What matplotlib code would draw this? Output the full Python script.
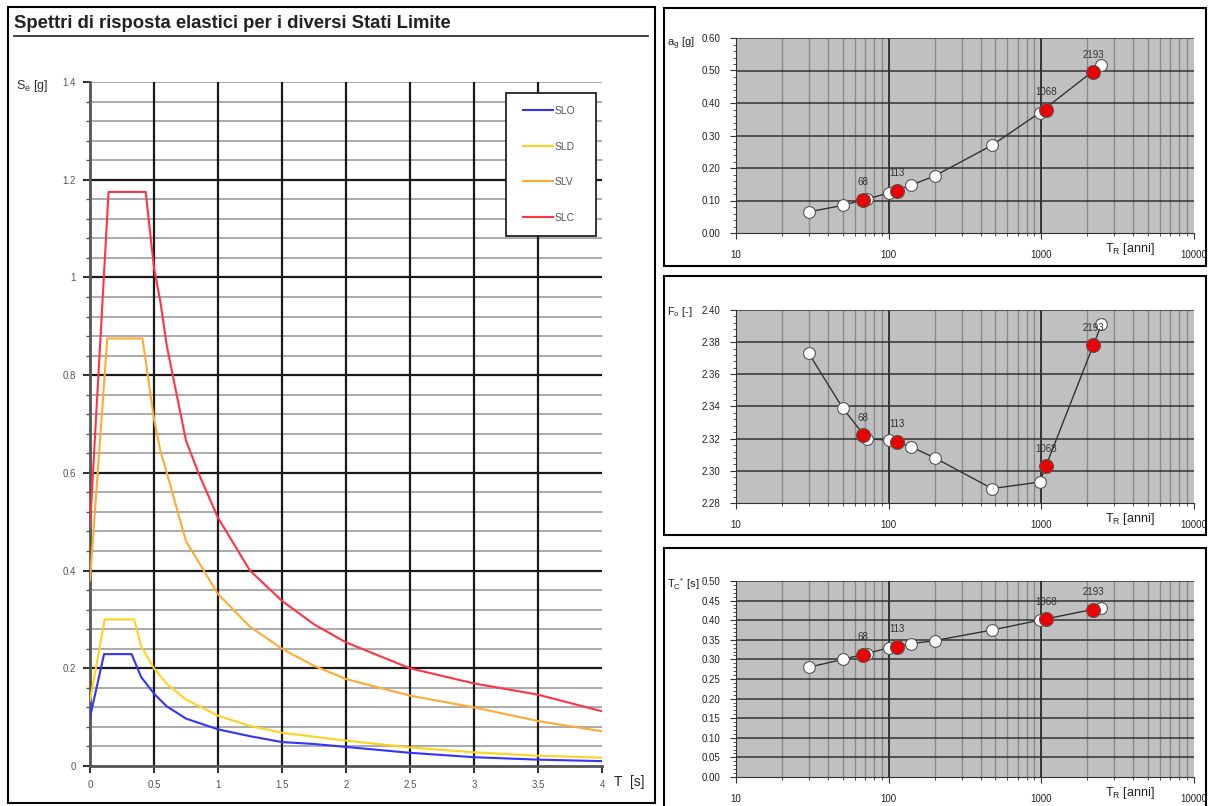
import matplotlib
matplotlib.use("Agg")
import matplotlib.pyplot as plt
from matplotlib.patches import Rectangle
from matplotlib.lines import Line2D
from matplotlib.ticker import MultipleLocator, FixedLocator, NullFormatter, FuncFormatter

plt.rcParams['font.family'] = ['Liberation Sans', 'DejaVu Sans']

# ---------------- data: elastic spectra ----------------
slo_T = [0, 0.11, 0.325, 0.4, 0.5, 0.6, 0.75, 1.0, 1.25, 1.5, 1.75, 2.0, 2.5, 3.0, 3.5, 4.0]
slo_S = [0.10, 0.229, 0.229, 0.182, 0.148, 0.122, 0.097, 0.075, 0.061, 0.049, 0.045, 0.039, 0.027, 0.018, 0.013, 0.010]

sld_T = [0, 0.115, 0.345, 0.4, 0.5, 0.6, 0.75, 1.0, 1.25, 1.5, 2.0, 2.5, 3.0, 3.5, 4.0]
sld_S = [0.134, 0.30, 0.30, 0.245, 0.20, 0.168, 0.136, 0.103, 0.082, 0.068, 0.052, 0.038, 0.028, 0.021, 0.017]

slv_T = [0, 0.135, 0.41, 0.5, 0.55, 0.6, 0.75, 1.0, 1.25, 1.5, 1.75, 2.0, 2.5, 3.0, 3.5, 4.0]
slv_S = [0.38, 0.875, 0.875, 0.71, 0.645, 0.60, 0.46, 0.352, 0.285, 0.24, 0.205, 0.178, 0.144, 0.12, 0.092, 0.071]

slc_T = [0, 0.145, 0.435, 0.5, 0.55, 0.6, 0.75, 0.85, 1.0, 1.25, 1.5, 1.75, 2.0, 2.5, 3.0, 3.5, 4.0]
slc_S = [0.49, 1.175, 1.175, 1.02, 0.95, 0.86, 0.666, 0.598, 0.508, 0.40, 0.338, 0.29, 0.253, 0.20, 0.169, 0.146, 0.112]

spectra_names = ['SLO', 'SLD', 'SLV', 'SLC']
spectra_colors = ['#3333ff', '#ffd21f', '#ffaa33', '#ff3344']

# ---------------- data: hazard parameters vs return period ----------------
tr_grid = [30, 50, 72, 101, 140, 201, 475, 975, 2475]
ag_grid = [0.065, 0.085, 0.105, 0.123, 0.147, 0.176, 0.270, 0.370, 0.518]
fo_grid = [2.373, 2.339, 2.320, 2.319, 2.315, 2.308, 2.289, 2.293, 2.391]
tc_grid = [0.280, 0.300, 0.315, 0.330, 0.340, 0.348, 0.375, 0.400, 0.432]

tr_sl = [68, 113, 1068, 2193]
tr_sl_labels = ['68', '113', '1068', '2193']
ag_sl = [0.102, 0.130, 0.380, 0.495]
fo_sl = [2.322, 2.318, 2.303, 2.378]
tc_sl = [0.312, 0.332, 0.403, 0.427]

W, H = 1208, 806
fig = plt.figure(figsize=(W / 100, H / 100), dpi=100)
fig.patch.set_facecolor('white')


def fbox(x0, y0, x1, y1):
    return [x0 / W, 1 - y1 / H, (x1 - x0) / W, (y1 - y0) / H]


def frame(x0, y0, x1, y1, lw=1.5, zorder=0):
    r = Rectangle((x0 / W, 1 - y1 / H), (x1 - x0) / W, (y1 - y0) / H,
                  transform=fig.transFigure, fill=False,
                  edgecolor='black', linewidth=lw, zorder=zorder)
    fig.patches.append(r)
    return r


# ---------------- left panel ----------------
frame(8, 7, 655, 803)
fig.text(14 / W, 1 - 23 / H, 'Spettri di risposta elastici per i diversi Stati Limite',
         fontsize=13.3, fontweight='bold', va='center', ha='left', color='#222222')
fig.add_artist(Line2D([14 / W, 648 / W], [1 - 36 / H, 1 - 36 / H], color='#333333', lw=1.3,
                      transform=fig.transFigure))

ax = fig.add_axes(fbox(90, 82, 602, 766))
ax.set_xlim(0, 4)
ax.set_ylim(0, 1.4)
ax.set_facecolor('white')
for yv in [0.04 * i for i in range(1, 36)]:
    if abs(yv / 0.2 - round(yv / 0.2)) < 1e-6:
        continue
    ax.axhline(yv, color='#ababab', lw=1.4, zorder=1)
for yv in [0.2, 0.4, 0.6, 0.8, 1.0, 1.2]:
    ax.axhline(yv, color='#1a1a1a', lw=1.6, zorder=1)
ax.axhline(1.4, color='#ababab', lw=1.4, zorder=1)
for xv in [0.5, 1.0, 1.5, 2.0, 2.5, 3.0, 3.5]:
    ax.axvline(xv, color='#1a1a1a', lw=1.6, zorder=1)

series = [(slo_T, slo_S), (sld_T, sld_S), (slv_T, slv_S), (slc_T, slc_S)]
handles = []
for (tt, ss), name, col in zip(series, spectra_names, spectra_colors):
    h, = ax.plot(tt, ss, color=col, lw=1.5, label=name, zorder=3)
    handles.append(h)

for side in ['top', 'right']:
    ax.spines[side].set_visible(False)
for side in ['left', 'bottom']:
    ax.spines[side].set_color('#555555')
    ax.spines[side].set_linewidth(2)
ax.xaxis.set_major_locator(MultipleLocator(0.5))
ax.yaxis.set_major_locator(MultipleLocator(0.2))
ax.yaxis.set_minor_locator(MultipleLocator(0.04))
fmt = FuncFormatter(lambda v, p: ('%g' % round(v, 2)))
ax.xaxis.set_major_formatter(fmt)
ax.yaxis.set_major_formatter(fmt)
ax.tick_params(axis='both', which='major', labelsize=7, labelcolor='#555555', color='#333333',
               length=5, width=1.5)
ax.tick_params(axis='y', which='minor', length=3, width=1, color='#555555')
ax.tick_params(axis='x', pad=5)
ax.tick_params(axis='y', pad=5)

# legend: white box drawn explicitly, entries placed inside
box = Rectangle((506 / W, 1 - 236 / H), 90 / W, 143 / H, transform=fig.transFigure,
                facecolor='white', edgecolor='#222222', linewidth=1.3, zorder=4)
fig.add_artist(box)
leg = fig.legend(handles=handles, loc='upper left', bbox_to_anchor=(523 / W, 1 - 106 / H),
                 frameon=False, fontsize=7.5, labelspacing=2.45,
                 handlelength=2.9, handletextpad=0.15, borderpad=0, borderaxespad=0)
for t in leg.get_texts():
    t.set_color('#555555')
leg.set_zorder(5)

fig.text(16 / W, 1 - 86 / H, r'S$_\mathregular{e}$ [g]', fontsize=9, va='center', ha='left',
         color='#333333')
fig.text(614 / W, 1 - 782 / H, 'T  [s]', fontsize=10, va='center', ha='left', color='#222222')

# ---------------- right panels ----------------
panels = [
    dict(fr=(664, 8, 1206, 266), ax=(736, 38, 1194, 233), y=ag_grid, ys=ag_sl,
         ylim=(0, 0.6), major=0.1, minor=0.02, ylab=r'a$_\mathregular{g}$ [g]', ylab_y=44,
         xlab_y=249),
    dict(fr=(664, 276, 1206, 535), ax=(736, 310, 1194, 503), y=fo_grid, ys=fo_sl,
         ylim=(2.28, 2.40), major=0.02, minor=0.004, ylab=r'F$_\mathregular{o}$ [-]', ylab_y=312,
         xlab_y=519),
    dict(fr=(664, 548, 1206, 812), ax=(736, 581, 1194, 777), y=tc_grid, ys=tc_sl,
         ylim=(0, 0.5), major=0.05, minor=0.01, ylab=r'T$_\mathregular{C}$$^\mathregular{*}$ [s]',
         ylab_y=584, xlab_y=793),
]

for p in panels:
    frame(*p['fr'])
    a = fig.add_axes(fbox(*p['ax']))
    a.set_xscale('log')
    a.set_xlim(10, 10000)
    a.set_ylim(*p['ylim'])
    a.set_facecolor('#c0c0c0')
    minors = [m * 10 ** e for e in (1, 2, 3) for m in range(2, 10)]
    for xv in minors:
        a.axvline(xv, color='#8a8a8a', lw=1.0, zorder=1)
    for xv in [100, 1000]:
        a.axvline(xv, color='#111111', lw=1.1, zorder=1)
    y0, y1 = p['ylim']
    n = int(round((y1 - y0) / p['major']))
    for i in range(1, n + 1):
        a.axhline(y0 + i * p['major'], color='#333333', lw=1.1, zorder=1)
    a.plot(tr_grid, p['y'], color='#333333', lw=1.0, zorder=2)
    a.plot(tr_grid, p['y'], 'o', ms=8.5, mfc='white', mec='#555555', mew=0.8, zorder=3)
    a.plot(tr_sl, p['ys'], 'o', ms=10, mfc='#ee0000', mec='#555555', mew=0.8, zorder=4)
    for xv, yv, lab in zip(tr_sl, p['ys'], tr_sl_labels):
        a.annotate(lab, (xv, yv), xytext=(0, 9), textcoords='offset points', ha='center',
                   va='bottom', fontsize=7, color='#333333', zorder=5)
    for side in ['top', 'right']:
        a.spines[side].set_visible(False)
    a.spines['left'].set_color('#333333')
    a.spines['bottom'].set_color('#333333')
    a.xaxis.set_major_locator(FixedLocator([10, 100, 1000, 10000]))
    a.xaxis.set_minor_locator(FixedLocator(minors))
    a.xaxis.set_minor_formatter(NullFormatter())
    a.xaxis.set_major_formatter(FuncFormatter(lambda v, pos: '%d' % round(v)))
    a.yaxis.set_major_locator(MultipleLocator(p['major']))
    a.yaxis.set_minor_locator(MultipleLocator(p['minor']))
    a.yaxis.set_major_formatter(FuncFormatter(lambda v, pos: '%.2f' % v))
    a.tick_params(axis='both', which='major', labelsize=7, labelcolor='#222222', length=4,
                  color='#333333')
    a.tick_params(axis='both', which='minor', length=2, color='#333333')
    a.tick_params(axis='x', pad=8)
    a.tick_params(axis='y', pad=7)
    fig.text(667 / W, 1 - p['ylab_y'] / H, p['ylab'], fontsize=8, va='center', ha='left',
             color='#222222')
    fig.text(1105 / W, 1 - p['xlab_y'] / H, r'T$_\mathregular{R}$ [anni]', fontsize=9,
             va='center', ha='left', color='#222222')

fig.savefig('out.png', dpi=100, facecolor='white')
